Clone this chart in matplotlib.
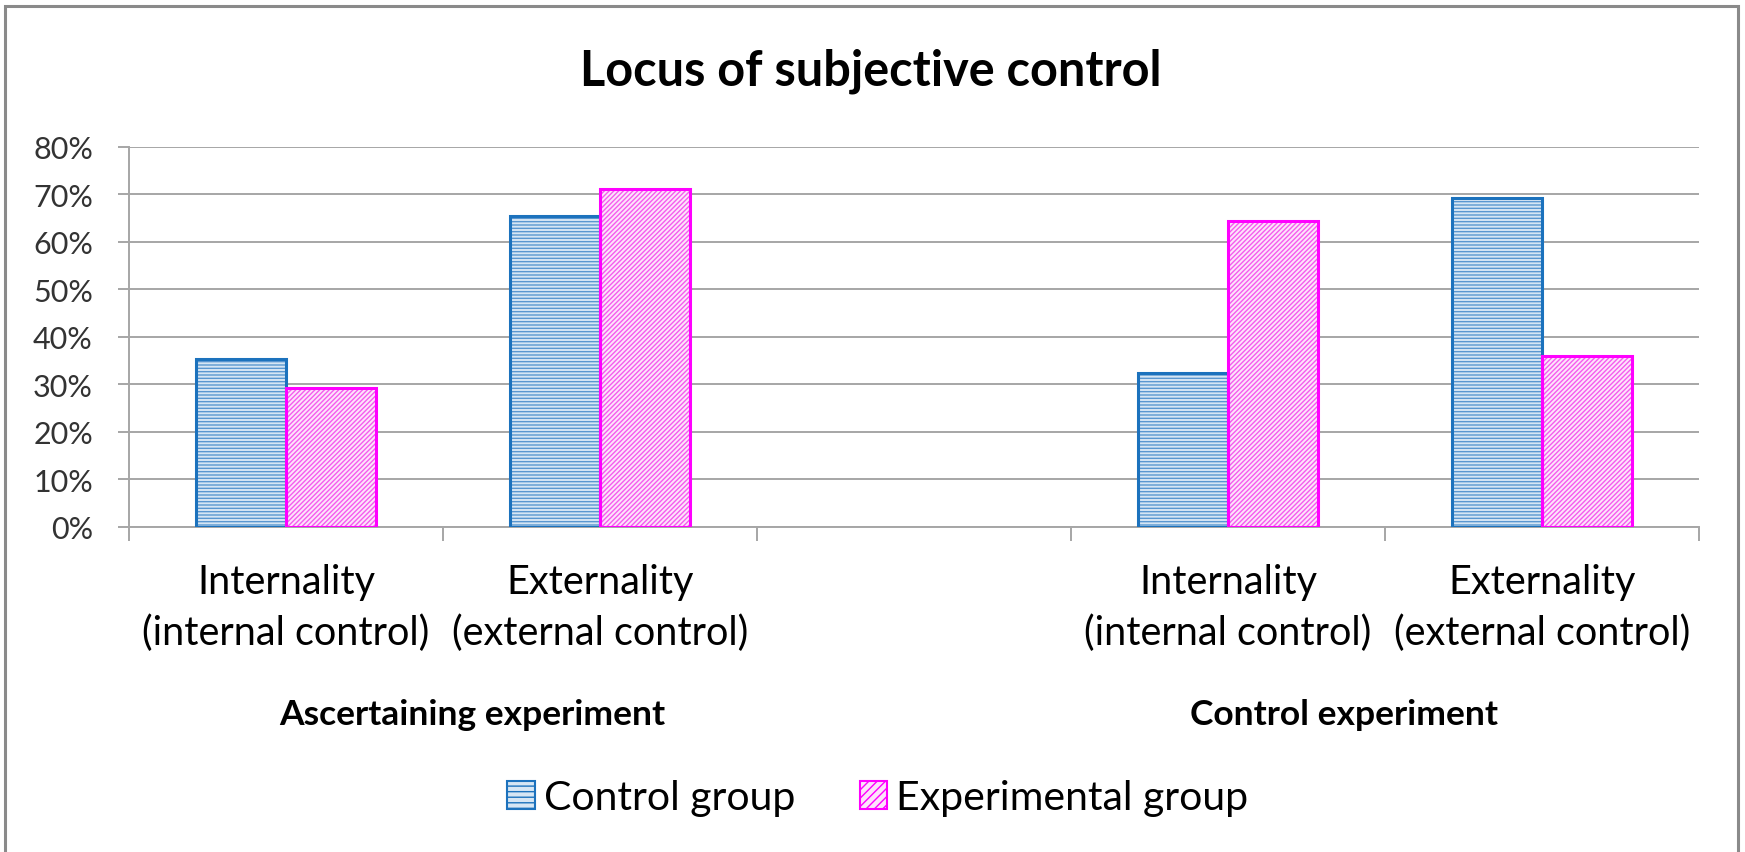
import numpy as np
import matplotlib
matplotlib.use("Agg")
import matplotlib.pyplot as plt
from matplotlib.patches import Patch, Rectangle
from matplotlib.ticker import PercentFormatter

plt.rcParams['font.family'] = ['Lato', 'DejaVu Sans']
plt.rcParams['hatch.linewidth'] = 1.0

# data (fractions)
categories = ["Internality\n(internal control)", "Externality\n(external control)", "",
              "Internality\n(internal control)", "Externality\n(external control)"]
groups = ["Ascertaining experiment", "Control experiment"]
control_group = [0.353, 0.655, np.nan, 0.323, 0.692]
experimental_group = [0.291, 0.711, np.nan, 0.643, 0.360]
series_names = ["Control group", "Experimental group"]

blue_edge = '#1c72bd'
blue_fill = '#d6e6f4'
blue_hatch = '#5a97d0'
pink_edge = '#ff00ff'
pink_fill = '#fde4fb'
pink_hatch = '#f55cee'

fig = plt.figure(figsize=(17.45, 8.53), dpi=100)
ax = fig.add_axes([129/1745, 1-527.5/853, 1570/1745, 379.5/853])

x = np.arange(len(categories))
w = 0.288

# fill + hatch pass, then outline pass
ax.bar(x - w/2, control_group, w, facecolor=blue_fill, edgecolor=blue_hatch,
       hatch='-----', linewidth=0, zorder=3)
ax.bar(x - w/2, control_group, w, facecolor='none', edgecolor=blue_edge,
       linewidth=2.2, zorder=4)
ax.bar(x + w/2, experimental_group, w, facecolor=pink_fill, edgecolor=pink_hatch,
       hatch='///////', linewidth=0, zorder=3)
ax.bar(x + w/2, experimental_group, w, facecolor='none', edgecolor=pink_edge,
       linewidth=2.2, zorder=4)

ax.set_xlim(-0.5, len(categories) - 0.5)
ax.set_ylim(0, 0.8)
ax.set_yticks(np.arange(0, 0.81, 0.1))
ax.yaxis.set_major_formatter(PercentFormatter(1.0, decimals=0))
ax.grid(axis='y', color='#a6a6a6', linewidth=1.4, zorder=0)
ax.set_axisbelow(True)

ax.set_xticks(x)
ax.set_xticklabels(categories, fontsize=28.5, linespacing=1.45)
ax.set_xticks(np.arange(-0.5, len(categories), 1.0), minor=True)
ax.tick_params(axis='x', which='major', length=0, pad=26)
ax.tick_params(axis='x', which='minor', length=10, width=1.4, color='#a6a6a6')
ax.tick_params(axis='y', length=8, width=1.4, color='#a6a6a6', pad=18,
               labelsize=22, labelcolor='#333333')

for s in ['top', 'right']:
    ax.spines[s].set_visible(False)
for s in ['left', 'bottom']:
    ax.spines[s].set_color('#a6a6a6')
    ax.spines[s].set_linewidth(1.4)

# group labels
fig.text(472/1745, 1-715/853, groups[0], ha='center', va='center',
         fontsize=25.5, fontweight='bold')
fig.text(1344/1745, 1-715/853, groups[1], ha='center', va='center',
         fontsize=25.5, fontweight='bold')

fig.text(871/1745, 1-71/853, "Locus of subjective control", ha='center',
         va='center', fontsize=35, fontweight='bold')

handles = [Patch(facecolor=blue_fill, edgecolor=blue_edge, hatch='---', linewidth=1.5),
           Patch(facecolor=pink_fill, edgecolor=pink_edge, hatch='////', linewidth=1.5)]
fig.legend(handles, series_names, loc='center', bbox_to_anchor=(878/1745, 1-799/853),
           ncol=2, frameon=False, fontsize=29.5, handlelength=0.68, handleheight=0.68,
           handletextpad=0.22, columnspacing=1.56)

fig.add_artist(Rectangle((5/1745, -0.05), 1733/1745, 1.05 - 7/853,
                         transform=fig.transFigure, fill=False,
                         edgecolor='#8a8a8a', linewidth=2.2))

fig.savefig('out.png', dpi=100)
